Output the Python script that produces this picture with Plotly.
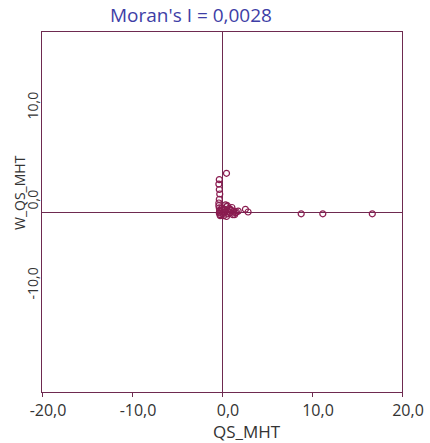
import plotly.graph_objects as go

# Moran scatter: standardized variable vs spatial lag
qs_mht = [8.8, 11.2, 16.7, 2.6, 2.9, 0.5,
          -0.3, -0.35, -0.3, -0.25, -0.3, -0.35, -0.3, -0.25, -0.3, -0.2, -0.35, -0.25,
          0.5, 0.8, 1.0, 1.3, 1.6, 0.3, 0.6, 0.9, 1.2, 0.2, 0.0, -0.1, 0.4, 0.7, 1.1,
          1.5, 0.1, -0.2, 0.5, 1.8, 0.9, 0.3, 1.4, 0.6]
w_qs_mht = [-0.2, -0.2, -0.2, 0.3, 0.0, 4.3,
            3.6, 3.1, 2.5, 2.0, 1.4, 1.0, 0.45, 0.2, -0.1, -0.3, 0.7, 0.0,
            0.6, 0.4, 0.2, 0.1, 0.0, 0.3, -0.2, -0.1, -0.3, -0.4, 0.4, 0.1, 0.8, 0.1, 0.5,
            -0.1, -0.2, -0.4, -0.5, 0.1, 0.3, 0.0, -0.3, 0.7]

x_ticks = [-20, -10, 0, 10, 20]
x_ticktext = ["-20,0", "-10,0", "0,0", "10,0", "20,0"]
y_ticks = [-10, 0, 10]
y_ticktext = ["-10,0", "0,0", "10,0"]

title_text = "Moran's I = 0,0028"

line_col = "#6e2a50"
pt_col = "#8a1c50"
txt_col = "#333333"
font = "Open Sans"

fig = go.Figure()
fig.add_trace(go.Scatter(
    x=qs_mht, y=w_qs_mht, mode="markers",
    marker=dict(symbol="circle-open", size=6, color=pt_col, line=dict(width=1.2, color=pt_col)),
    showlegend=False, hoverinfo="skip"))

W, H = 430, 443
L, R, T, B = 42, 28, 32, 51

fig.update_layout(
    width=W, height=H,
    margin=dict(l=L, r=R, t=T, b=B, autoexpand=False),
    paper_bgcolor="white", plot_bgcolor="white",
    font=dict(family=font, color=txt_col),
    title=dict(text=title_text, x=191 / W, xanchor="center", xref="container",
               y=1 - 15 / H, yanchor="middle", font=dict(size=19, color="#3e3ea6", family=font)),
    xaxis=dict(range=[-20, 20], tickvals=x_ticks, ticktext=x_ticktext,
               showgrid=False, zeroline=True, zerolinecolor=line_col, zerolinewidth=1,
               showline=True, linecolor=line_col, linewidth=1, mirror=True,
               ticks="outside", ticklen=4, tickcolor=line_col, tickwidth=1,
               tickfont=dict(size=16, color=txt_col, family=font), ticklabelshift=6,
               ticklabelstandoff=0, automargin=False, fixedrange=True),
    yaxis=dict(range=[-20, 20], tickvals=y_ticks, showticklabels=False,
               showgrid=False, zeroline=True, zerolinecolor=line_col, zerolinewidth=1,
               showline=True, linecolor=line_col, linewidth=1, mirror=True,
               ticks="", automargin=False, fixedrange=True),
)

ann = []
for v, t in zip(y_ticks, y_ticktext):
    ann.append(dict(x=0, xref="paper", y=v, yref="y", text=t, showarrow=False,
                    textangle=-90, xanchor="right", yanchor="bottom", xshift=1,
                    font=dict(size=14, color=txt_col, family=font)))
ann.append(dict(x=(247 - L) / 360, xref="paper", y=-(431 - 392) / 360, yref="paper",
                text="QS_MHT", showarrow=False, xanchor="center", yanchor="middle",
                font=dict(size=17, color=txt_col, family=font)))
ann.append(dict(x=-(L - 19) / 360, xref="paper", y=(392 - 193) / 360, yref="paper",
                text="W_QS_MHT", showarrow=False, textangle=-90, xanchor="center", yanchor="middle",
                font=dict(size=14, color=txt_col, family=font)))
fig.update_layout(annotations=ann)

fig.write_html("out.html", config={"displayModeBar": False},
               post_script="document.body.style.margin='0';document.body.style.overflow='hidden';")
